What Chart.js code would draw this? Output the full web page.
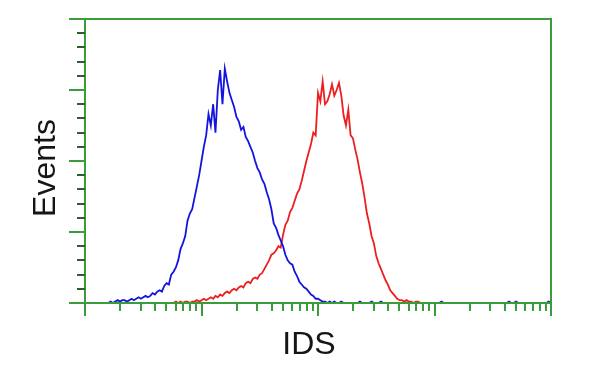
<!DOCTYPE html>
<html>
<head>
<meta charset="utf-8">
<script src="https://cdn.jsdelivr.net/npm/chart.js@4/dist/chart.umd.min.js"></script>
<style>
  html, body { margin: 0; padding: 0; background: #ffffff; }
  #wrap { width: 600px; height: 375px; }
</style>
</head>
<body>
<div id="wrap"><canvas id="c" width="600" height="375"></canvas></div>
<script>
// ---- Data (histogram of events per fluorescence channel; 5 channels per bin, 250 channels per decade) ----
const BIN_WIDTH = 5;            // channels per bin
const CHANNEL_MAX = 1000;       // 4 decades
const COUNT_MAX = 200;

// blue histogram (control)
const blueCounts = [
  0,0,0,0,0,0,0,0,0,0, 0,1,0,1,2,1,2,2,1,2,
  3,2,3,4,3,4,5,4,5,7, 6,8,9,8,12,14,13,20,22,25,
  30,38,42,47,58,63,66,74,82,90, 100,110,118,133,125,140,120,150,164,140,
  165,156,148,143,138,131,128,122,124,117, 114,110,106,100,95,92,87,84,78,73,
  66,56,53,48,44,40,34,30,28,27, 22,19,15,13,11,10,8,6,5,3,
  3,2,1,1,0,1,0,1,0,0, 1,0,0,0,0,0,0,0,1,0,
  0,0,0,1,0,0,0,1,0,0, 0,0,0,0,0,0,0,0,0,0,
  0,0,0,0,0,0,0,0,0,0, 0,0,0,1,0,0,0,0,0,0,
  0,0,0,0,0,0,0,0,0,0, 0,0,0,0,0,0,0,0,0,0,
  0,0,1,0,0,1,0,0,0,0, 0,0,0,0,0,0,0,0,0,1,
  0
];

// red histogram (IDS stained)
const redCounts = [
  0,0,0,0,0,0,0,0,0,0, 0,0,0,0,0,0,0,0,0,0,
  0,0,0,0,0,0,0,0,0,0, 0,0,0,0,0,0,0,0,0,1,
  0,1,0,1,1,0,1,1,2,1, 2,3,2,3,4,3,5,4,6,5,
  7,8,7,9,10,9,11,12,11,14, 15,14,17,18,17,20,21,24,27,30,
  34,35,37,40,39,48,55,58,64,67, 72,77,80,86,93,100,106,112,120,118,
  148,142,156,140,142,147,154,146,150,155, 146,132,125,136,118,116,108,101,92,84,
  74,63,56,47,42,33,28,24,20,16, 13,9,7,5,3,2,2,1,2,1,
  1,0,1,1,0,0,0,0,0,0, 0,0,0,0,0,0,0,0,0,0,
  0,0,0,0,0,0,0,0,0,0, 0,0,0,0,0,0,0,0,0,0,
  0,0,0,0,0,0,0,0,0,0, 0,0,0,0,0,0,0,0,0,0,
  0
];

// axis tick definitions
const decadeChannels = [0, 250, 500, 750, 1000];   // major x ticks (10^0 .. 10^4)
const minorMultipliers = [2, 3, 4, 5, 6, 7, 8, 9];  // minor x ticks within each decade
const yMajorStep = 50;
const yMinorStep = 10;
const xTitle = 'IDS';
const yTitle = 'Events';

const toPoints = arr => arr.map((v, i) => ({ x: i * BIN_WIDTH, y: v }));

const GREEN = '#3a9c3a';
const DARK_GREEN = '#2f5f2f';

const axisPlugin = {
  id: 'facsAxes',
  afterDatasetsDraw(chart) {
    const { ctx, scales: { x, y } } = chart;
    ctx.save();
    ctx.lineCap = 'butt';
    ctx.strokeStyle = GREEN;
    ctx.lineWidth = 2;
    const L = Math.round(x.getPixelForValue(0));
    const R = Math.round(x.getPixelForValue(CHANNEL_MAX));
    const T = Math.round(y.getPixelForValue(COUNT_MAX));
    const B = Math.round(y.getPixelForValue(0));
    ctx.beginPath();
    ctx.moveTo(L - 16, T); ctx.lineTo(R + 1, T);
    ctx.moveTo(L - 16, B); ctx.lineTo(R + 1, B);
    ctx.moveTo(L, T - 1); ctx.lineTo(L, B + 12);
    ctx.moveTo(R, T - 1); ctx.lineTo(R, B + 13);
    ctx.stroke();

    for (let v = yMinorStep; v < COUNT_MAX; v += yMinorStep) {
      const py = Math.round(y.getPixelForValue(v));
      const major = v % yMajorStep === 0;
      ctx.strokeStyle = major ? GREEN : DARK_GREEN;
      ctx.lineWidth = 2;
      ctx.beginPath();
      ctx.moveTo(L - (major ? 16 : 8), py);
      ctx.lineTo(L, py);
      ctx.stroke();
    }

    ctx.strokeStyle = GREEN;
    ctx.lineWidth = 2;
    decadeChannels.forEach((c, di) => {
      const px = Math.round(x.getPixelForValue(c));
      ctx.beginPath(); ctx.moveTo(px, B); ctx.lineTo(px, B + 13); ctx.stroke();
      if (di < decadeChannels.length - 1) {
        const span = decadeChannels[di + 1] - c;
        minorMultipliers.forEach(m => {
          const mx = Math.round(x.getPixelForValue(c + span * Math.log10(m)));
          ctx.beginPath(); ctx.moveTo(mx, B); ctx.lineTo(mx, B + 8); ctx.stroke();
        });
      }
    });

    ctx.fillStyle = '#151515';
    ctx.font = '32px "Liberation Sans", Arial, sans-serif';
    ctx.textAlign = 'center';
    ctx.textBaseline = 'alphabetic';
    ctx.fillText(xTitle, 309, 354);
    ctx.translate(55, 168);
    ctx.rotate(-Math.PI / 2);
    ctx.fillText(yTitle, 0, 0);
    ctx.restore();
  }
};

new Chart(document.getElementById('c'), {
  type: 'line',
  data: {
    datasets: [
      { label: 'Control', data: toPoints(blueCounts), borderColor: '#1414e0', borderWidth: 1.8, pointRadius: 0, tension: 0, fill: false },
      { label: 'IDS', data: toPoints(redCounts), borderColor: '#ee1e1e', borderWidth: 1.8, pointRadius: 0, tension: 0, fill: false }
    ]
  },
  options: {
    responsive: false,
    animation: false,
    events: [],
    layout: { padding: { left: 85, right: 49, top: 19, bottom: 72 } },
    plugins: { legend: { display: false }, tooltip: { enabled: false }, title: { display: false } },
    scales: {
      x: { type: 'linear', min: 0, max: CHANNEL_MAX, display: false },
      y: { type: 'linear', min: 0, max: COUNT_MAX, display: false }
    }
  },
  plugins: [axisPlugin]
});
</script>
</body>
</html>
